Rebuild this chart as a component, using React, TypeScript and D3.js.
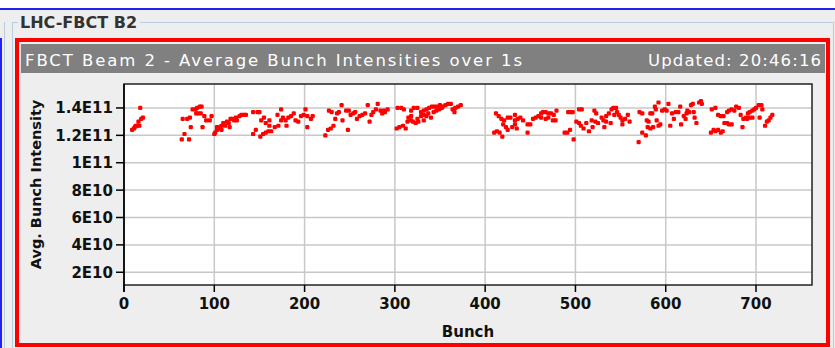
import React from 'react';
import * as d3 from 'd3';

// Bunch intensity data, [bunch number, average intensity in units of 1E11]
const train1: [number, number][] = [
  [9, 1.24], [11, 1.25], [12, 1.26], [13, 1.27], [15, 1.27], [17, 1.27], [16, 1.30], [19, 1.32], [21, 1.33], [18, 1.40],
];
const train2: [number, number][] = [
  [65, 1.32], [70, 1.32], [73, 1.33], [76, 1.39], [79, 1.39], [81, 1.40], [84, 1.41], [86, 1.41], [82, 1.36], [85, 1.36],
  [89, 1.34], [91, 1.31], [95, 1.31], [97, 1.34], [74, 1.26], [87, 1.26], [67, 1.21], [64, 1.17], [72, 1.17], [80, 1.36],
];
const train3: [number, number][] = [
  [100, 1.21], [101, 1.22], [103, 1.24], [105, 1.25], [106, 1.26], [108, 1.27], [110, 1.29], [112, 1.27], [114, 1.30],
  [116, 1.29], [118, 1.32], [120, 1.32], [122, 1.31], [124, 1.33], [125, 1.31], [128, 1.34], [130, 1.35], [133, 1.35],
  [103, 1.26], [108, 1.24], [117, 1.26], [143, 1.21], [143, 1.37], [135, 1.35],
  [148, 1.37], [150, 1.37], [152, 1.31], [157, 1.29], [161, 1.31], [155, 1.33], [161, 1.27], [167, 1.26], [171, 1.27],
  [174, 1.39], [170, 1.35], [176, 1.33], [179, 1.31], [182, 1.33], [185, 1.34], [188, 1.36], [190, 1.31], [193, 1.30],
  [196, 1.34], [199, 1.35], [201, 1.39], [203, 1.34], [207, 1.32], [209, 1.34], [203, 1.26], [180, 1.27], [174, 1.31],
  [146, 1.24], [151, 1.19], [154, 1.21], [157, 1.22], [160, 1.23], [163, 1.23],
];
const train4: [number, number][] = [
  [223, 1.20], [226, 1.24], [229, 1.25], [232, 1.27], [234, 1.32], [236, 1.36], [227, 1.38], [230, 1.37], [238, 1.37],
  [241, 1.42], [242, 1.31], [246, 1.38], [249, 1.38], [248, 1.24], [251, 1.35], [254, 1.36], [256, 1.37], [258, 1.32],
  [261, 1.34], [264, 1.35], [267, 1.36], [270, 1.42], [272, 1.30], [274, 1.35], [276, 1.37], [279, 1.39], [281, 1.43],
  [284, 1.38], [286, 1.36], [288, 1.38], [289, 1.37], [292, 1.39],
];
const train5: [number, number][] = [
  [303, 1.40], [307, 1.40], [310, 1.39], [315, 1.33], [318, 1.38], [321, 1.40], [325, 1.40], [329, 1.37], [332, 1.38],
  [335, 1.39], [338, 1.40], [341, 1.41], [344, 1.41], [347, 1.41], [350, 1.42], [353, 1.41], [356, 1.42], [359, 1.43],
  [362, 1.43], [364, 1.39], [367, 1.40], [370, 1.41], [373, 1.42], [366, 1.37],
  [302, 1.25], [305, 1.26], [309, 1.27], [312, 1.25], [314, 1.30], [318, 1.31], [320, 1.30], [323, 1.29], [326, 1.30],
  [325, 1.32], [329, 1.34], [332, 1.35], [335, 1.34], [337, 1.36], [340, 1.33], [343, 1.37], [346, 1.38], [349, 1.39],
  [352, 1.40], [318, 1.34], [332, 1.31],
];
const train6: [number, number][] = [
  [410, 1.22], [413, 1.23], [416, 1.22], [419, 1.19], [412, 1.36], [415, 1.34], [418, 1.32], [421, 1.31], [420, 1.28],
  [423, 1.26], [425, 1.33], [428, 1.33], [430, 1.26], [433, 1.28], [425, 1.24], [433, 1.31],
  [433, 1.35], [436, 1.32], [439, 1.33], [442, 1.31], [435, 1.25], [447, 1.28], [450, 1.28], [447, 1.22], [453, 1.32],
  [456, 1.33], [459, 1.34], [462, 1.36], [464, 1.37], [467, 1.37], [470, 1.36], [473, 1.36], [476, 1.35], [479, 1.38],
  [467, 1.32], [470, 1.33], [475, 1.31], [478, 1.31], [462, 1.33],
];
const train7: [number, number][] = [
  [488, 1.22], [491, 1.22], [494, 1.24], [498, 1.17], [492, 1.37], [495, 1.37], [497, 1.37], [504, 1.39], [507, 1.39],
  [501, 1.30], [504, 1.29], [506, 1.27], [509, 1.25], [512, 1.29], [515, 1.23], [518, 1.31], [521, 1.38], [523, 1.36],
  [522, 1.30], [525, 1.29], [529, 1.33], [531, 1.31], [534, 1.30], [534, 1.34], [537, 1.36], [540, 1.39], [542, 1.40],
  [545, 1.40], [546, 1.37], [548, 1.35], [543, 1.35], [550, 1.33], [552, 1.31], [555, 1.32], [558, 1.35], [560, 1.30],
  [552, 1.28], [539, 1.29], [532, 1.26], [519, 1.26], [571, 1.37], [574, 1.36], [570, 1.15], [574, 1.22],
];
const train8: [number, number][] = [
  [579, 1.31], [581, 1.30], [583, 1.36], [585, 1.36], [588, 1.41], [592, 1.44], [589, 1.39], [580, 1.26], [583, 1.25],
  [586, 1.26], [578, 1.20], [590, 1.31], [592, 1.27], [594, 1.28], [596, 1.38], [599, 1.39], [601, 1.38], [603, 1.43],
  [605, 1.27], [607, 1.36], [609, 1.32], [611, 1.37], [614, 1.37], [616, 1.41], [617, 1.28], [620, 1.34], [622, 1.32],
  [624, 1.38], [626, 1.37], [628, 1.42], [630, 1.43], [631, 1.37], [632, 1.33], [634, 1.29], [637, 1.44], [639, 1.45],
  [640, 1.43], [623, 1.36],
];
const train9: [number, number][] = [
  [650, 1.22], [653, 1.24], [655, 1.23], [658, 1.24], [661, 1.22], [663, 1.23], [651, 1.39], [655, 1.40], [658, 1.35],
  [661, 1.34], [664, 1.34], [665, 1.29], [668, 1.29], [670, 1.28], [673, 1.28], [668, 1.37], [670, 1.38], [673, 1.39],
  [676, 1.38], [678, 1.41], [681, 1.40], [683, 1.35], [685, 1.26], [686, 1.32], [689, 1.33], [691, 1.36], [693, 1.37],
  [696, 1.38], [698, 1.39], [700, 1.40], [703, 1.42], [706, 1.42], [707, 1.39], [704, 1.33], [693, 1.33], [696, 1.33],
  [710, 1.27], [712, 1.30], [714, 1.31], [716, 1.33], [718, 1.35], [690, 1.32],
];

const xTicks = [0, 100, 200, 300, 400, 500, 600, 700];
const yTicks = [0.2, 0.4, 0.6, 0.8, 1.0, 1.2, 1.4];
const yTickLabels = ['2E10', '4E10', '6E10', '8E10', '1E11', '1.2E11', '1.4E11'];

const W = 835;
const H = 348;
const P = { left: 124, right: 812, top: 84, bottom: 285 };
const FONT = '"DejaVu Sans", sans-serif';

export default function App() {
  const all = [...train1, ...train2, ...train3, ...train4, ...train5, ...train6, ...train7, ...train8, ...train9];
  const x = d3.scaleLinear().domain([0, 762]).range([P.left, P.right]);
  const y = d3.scaleLinear().domain([0.107, 1.575]).range([P.bottom, P.top]);
  const light = '#b9cde2';
  const s = 4.2;
  return (
    <svg width={W} height={H} style={{ position: 'absolute', left: 0, top: 0 }} fontFamily={FONT}>
      <rect x={0} y={0} width={W} height={H} fill="#eeeeee" />
      <rect x={0} y={0} width={W} height={8} fill="#ffffff" />
      <line x1={0} x2={W} y1={9} y2={9} stroke="#2222ee" strokeWidth={2} />
      <line x1={1} x2={1} y1={38} y2={H} stroke="#2222ee" strokeWidth={2} />
      <line x1={4.5} x2={4.5} y1={22} y2={H} stroke={light} strokeWidth={1} />
      <line x1={12.5} x2={12.5} y1={22} y2={H} stroke={light} strokeWidth={1} />
      <line x1={12} x2={18} y1={22.5} y2={22.5} stroke={light} strokeWidth={1} />
      <line x1={140} x2={833} y1={22.5} y2={22.5} stroke={light} strokeWidth={1} />
      <line x1={833.5} x2={833.5} y1={22} y2={H} stroke={light} strokeWidth={1} />
      <text x={20} y={28} fontSize={16} fontWeight="bold" fill="#333333">LHC-FBCT B2</text>

      <rect x={17} y={40} width={811} height={305} fill="#eeeeee" stroke="#ff0000" strokeWidth={4} />
      <rect x={21} y={44} width={804} height={29} fill="#808080" />
      <text x={25} y={66} fontSize={16.5} fill="#ffffff" textLength={497} lengthAdjust="spacing">
        FBCT Beam 2 - Average Bunch Intensities over 1s
      </text>
      <text x={648} y={66} fontSize={16.5} fill="#ffffff" textLength={173} lengthAdjust="spacing">
        Updated: 20:46:16
      </text>

      <rect x={P.left} y={P.top} width={P.right - P.left} height={P.bottom - P.top} fill="#ffffff" />
      {yTicks.map((t) => (
        <line key={'gy' + t} x1={P.left} x2={P.right} y1={y(t)} y2={y(t)} stroke="#c8c8c8" strokeWidth={1.5} />
      ))}
      {xTicks.filter((t) => t > 0).map((t) => (
        <line key={'gx' + t} x1={x(t)} x2={x(t)} y1={P.top} y2={P.bottom} stroke="#c8c8c8" strokeWidth={1.5} />
      ))}
      {all.map((d, i) => (
        <rect key={i} x={x(d[0]) - s / 2} y={y(d[1]) - s / 2} width={s} height={s} rx={1.2} fill="#ff0000" />
      ))}
      <rect x={P.left} y={P.top} width={P.right - P.left} height={P.bottom - P.top} fill="none" stroke="#222222" strokeWidth={1.5} />

      {yTicks.map((t, i) => (
        <g key={'ty' + t}>
          <line x1={P.left - 8} x2={P.left} y1={y(t)} y2={y(t)} stroke="#000" strokeWidth={1.5} />
          <text x={P.left - 11} y={y(t)} dy="0.36em" textAnchor="end" fontSize={15} fontWeight="bold" fill="#111">
            {yTickLabels[i]}
          </text>
        </g>
      ))}
      <line x1={P.left} x2={P.left} y1={P.top} y2={P.bottom + 7} stroke="#000" strokeWidth={1.5} />
      {xTicks.map((t) => (
        <g key={'tx' + t}>
          <line x1={x(t)} x2={x(t)} y1={P.bottom} y2={P.bottom + 7} stroke="#000" strokeWidth={1.5} />
          <text x={x(t)} y={309} textAnchor="middle" fontSize={15} fontWeight="bold" fill="#111">{t}</text>
        </g>
      ))}
      <text x={(P.left + P.right) / 2} y={337} textAnchor="middle" fontSize={15} fontWeight="bold" fill="#111">Bunch</text>
      <text
        transform={`translate(41, ${(P.top + P.bottom) / 2}) rotate(-90)`}
        textAnchor="middle"
        fontSize={14.5}
        fontWeight="bold"
        fill="#111"
      >
        Avg. Bunch Intensity
      </text>
    </svg>
  );
}
